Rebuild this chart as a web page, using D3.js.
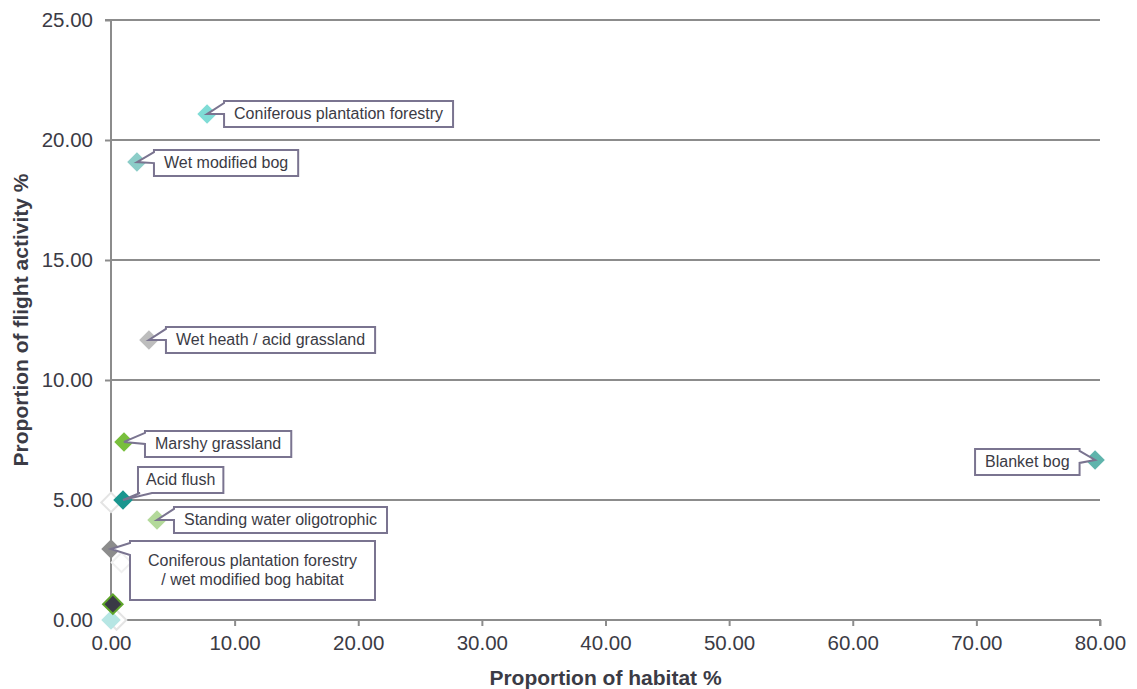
<!DOCTYPE html>
<html>
<head>
<meta charset="utf-8">
<script src="https://cdn.jsdelivr.net/npm/d3@7"></script>
<style>
  html, body { margin: 0; padding: 0; background: #fff; }
  svg { display: block; font-family: "Liberation Sans", Arial, sans-serif; }
</style>
</head>
<body>
<svg id="chart" width="1137" height="689"></svg>
<script>
// Habitat share vs. share of flight activity, one point per habitat type
const habitats = [
  "Coniferous plantation forestry",
  "Wet modified bog",
  "Wet heath / acid grassland",
  "Marshy grassland",
  "Acid flush",
  "Standing water oligotrophic",
  "Coniferous plantation forestry / wet modified bog habitat",
  "Blanket bog",
  "Other (white)",
  "Other (white, lower)",
  "Other (dark)",
  "Other (white, origin)",
  "Other (cyan)"
];
const habitatPct = [7.77, 2.10, 3.07, 1.05, 0.97, 3.72, 0.00, 79.60, 0.00, 0.85, 0.15, 0.45, 0.00];
const flightPct  = [21.08, 19.08, 11.67, 7.42, 5.00, 4.17, 2.96, 6.67, 4.90, 2.40, 0.66, 0.00, 0.00];
const fillColors = ["#7fdcd6", "#8ccdc8", "#bdbdbd", "#78bf3c", "#1a968f", "#b3d99a", "#8c8c8c",
                    "#5fb4ac", "#ffffff", "#ffffff", "#3a3a46", "#ffffff", "#b6e6e4"];
const strokeColors = ["none", "none", "none", "none", "none", "none", "none",
                      "none", "#e4e4e4", "#f0f0f0", "#5ea52a", "#e4e4e4", "none"];
// Callout text per point (empty = no callout)
const calloutText = [
  ["Coniferous plantation forestry"],
  ["Wet modified bog"],
  ["Wet heath / acid grassland"],
  ["Marshy grassland"],
  ["Acid flush"],
  ["Standing water oligotrophic"],
  ["Coniferous plantation forestry", "/ wet modified bog habitat"],
  ["Blanket bog"],
  [], [], [], [], []
];
// Callout box offset (dx, dy of box top-left from the point), pointer side, side padding
const calloutBox = [
  {dx: 17, dy: -13, side: "left", pad: 10},
  {dx: 17, dy: -12, side: "left", pad: 10},
  {dx: 17, dy: -13, side: "left", pad: 10},
  {dx: 21, dy: -11, side: "left", pad: 10},
  {dx: 15, dy: -33, side: "bottom", pad: 8},
  {dx: 17, dy: -13, side: "left", pad: 10},
  {dx: 19, dy: -8, side: "left", pad: 18},
  {dx: -120, dy: -11, side: "right", pad: 10},
  null, null, null, null, null
];

const xTicks = [0, 10, 20, 30, 40, 50, 60, 70, 80];
const yTicks = [0, 5, 10, 15, 20, 25];

const svg = d3.select("#chart");
const margin = {left: 111, right: 37, top: 20, bottom: 69};
const W = 1137, H = 689;

const x = d3.scaleLinear().domain([0, 80]).range([margin.left, W - margin.right]);
const y = d3.scaleLinear().domain([0, 25]).range([H - margin.bottom, margin.top]);

const axisColor = "#8c8c8c";
const textColor = "#3b3b45";

// Horizontal gridlines
svg.append("g")
  .selectAll("line")
  .data(yTicks.filter(t => t > 0))
  .join("line")
  .attr("x1", x(0)).attr("x2", x(80))
  .attr("y1", d => y(d)).attr("y2", d => y(d))
  .attr("stroke", axisColor).attr("stroke-width", 2);

// Y axis
const yAxis = svg.append("g")
  .attr("transform", `translate(${x(0)},0)`)
  .call(d3.axisLeft(y).tickValues(yTicks).tickFormat(d3.format(".2f")).tickSize(6).tickPadding(12));
// X axis
const xAxis = svg.append("g")
  .attr("transform", `translate(0,${y(0)})`)
  .call(d3.axisBottom(x).tickValues(xTicks).tickFormat(d3.format(".2f")).tickSize(6).tickPadding(9));

[yAxis, xAxis].forEach(g => {
  g.select(".domain").attr("stroke", axisColor).attr("stroke-width", 2);
  g.selectAll(".tick line").attr("stroke", axisColor).attr("stroke-width", 2);
  g.selectAll(".tick text")
    .attr("fill", textColor)
    .style("font-size", "20.5px")
    .style("font-family", "'Liberation Sans', Arial, sans-serif");
});
yAxis.select(".domain").attr("d", `M-6,${y(25)}H0V${y(0)}`);
xAxis.select(".domain").attr("d", `M${x(0)},0H${x(80)}V6`);

// Axis titles
svg.append("text")
  .attr("x", (x(0) + x(80)) / 2).attr("y", 685)
  .attr("text-anchor", "middle")
  .attr("fill", textColor)
  .style("font-size", "21px").style("font-weight", "bold")
  .text("Proportion of habitat %");
svg.append("text")
  .attr("transform", `translate(28,${(y(0) + y(25)) / 2}) rotate(-90)`)
  .attr("text-anchor", "middle")
  .attr("fill", textColor)
  .style("font-size", "21px").style("font-weight", "bold")
  .text("Proportion of flight activity %");

// Points
const pts = habitats.map((h, i) => ({
  name: h, hx: habitatPct[i], fy: flightPct[i],
  fill: fillColors[i], stroke: strokeColors[i],
  lines: calloutText[i], box: calloutBox[i]
}));
const drawOrder = [8, 9, 0, 1, 2, 3, 4, 5, 6, 7, 11, 12, 10];
const diamond = d3.symbol().type(d3.symbolSquare).size(190);
svg.append("g")
  .selectAll("path")
  .data(drawOrder.map(i => pts[i]))
  .join("path")
  .attr("d", diamond)
  .attr("transform", d => `translate(${x(d.hx)},${y(d.fy)}) rotate(45)`)
  .attr("fill", d => d.fill)
  .attr("stroke", d => d.stroke)
  .attr("stroke-width", 2);

// Callouts: white box with a pointer wedge towards the point
const measure = svg.append("text").style("font-size", "16px").attr("visibility", "hidden");
function textWidth(s) { measure.text(s); return measure.node().getComputedTextLength(); }

const callouts = svg.append("g");
pts.forEach(p => {
  if (!p.lines.length) return;
  const px = x(p.hx), py = y(p.fy);
  const lineH = 19;
  const w = Math.max(...p.lines.map(textWidth)) + 2 * p.box.pad;
  const h = p.lines.length * lineH + 7 + (p.lines.length > 1 ? 14 : 0);
  const bx = px + p.box.dx, by = py + p.box.dy;
  let d;
  if (p.box.side === "left") {
    const a = by + 2, b = by + Math.min(14, h * 0.5);
    d = `M${bx},${by}H${bx + w}V${by + h}H${bx}V${b}L${px},${py}L${bx},${a}Z`;
  } else if (p.box.side === "right") {
    const a = by + 2, b = by + 14;
    d = `M${bx},${by}H${bx + w}V${a}L${px},${py}L${bx + w},${b}V${by + h}H${bx}Z`;
  } else {
    const a = bx + 2, b = bx + 14;
    d = `M${bx},${by}H${bx + w}V${by + h}H${b}L${px},${py}L${a},${by + h}H${bx}Z`;
  }
  callouts.append("path")
    .attr("d", d)
    .attr("fill", "#fff")
    .attr("stroke", "#7a7490")
    .attr("stroke-width", 2)
    .attr("stroke-linejoin", "miter");
  const t = callouts.append("text")
    .attr("fill", textColor)
    .style("font-size", "16px")
    .attr("text-anchor", "middle");
  const top = by + (h - p.lines.length * lineH) / 2;
  p.lines.forEach((s, k) => {
    t.append("tspan").attr("x", bx + w / 2).attr("y", top + lineH * k + 14.5).text(s);
  });
});
measure.remove();
</script>
</body>
</html>
